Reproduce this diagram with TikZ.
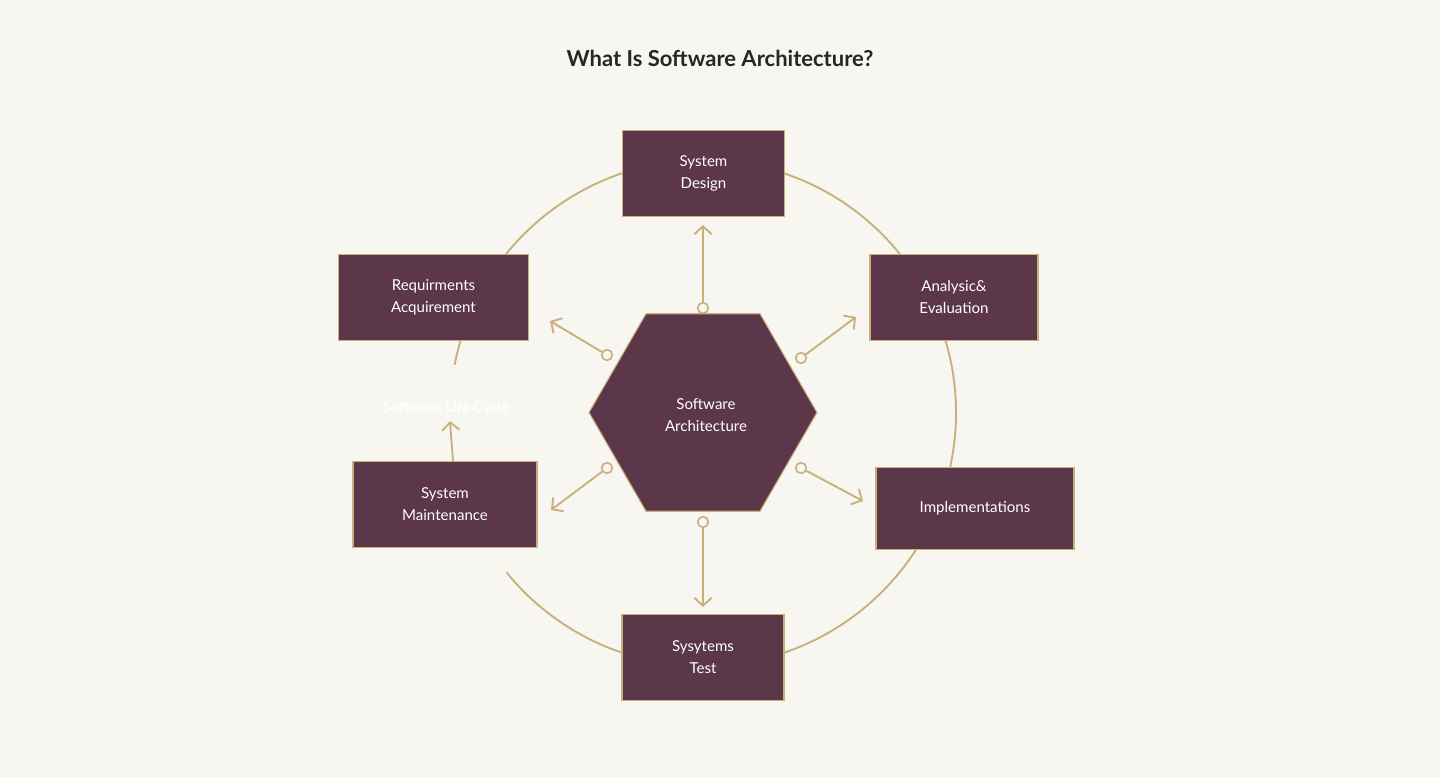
\documentclass[tikz,border=0pt]{standalone}
\usepackage{fontspec}
\setmainfont{Lato}
\usetikzlibrary{arrows.meta,shapes.geometric}
\definecolor{bg}{HTML}{F8F6F1}
\definecolor{plum}{HTML}{5C3649}
\definecolor{tan}{HTML}{C8B07A}
\begin{document}
\begin{tikzpicture}[x=0.75pt,y=-0.75pt,
  box/.style={draw=tan,line width=0.8pt,fill=plum,text=white,font=\fontsize{11.3}{16.5}\selectfont,align=center,inner sep=0pt},
  dot/.style={circle,draw=tan,line width=1.2pt,fill=bg,minimum size=8pt,inner sep=0pt},
  arr/.style={draw=tan,line width=1.4pt,-{Straight Barb[length=6pt,width=13pt]}},
  ring/.style={draw=tan,line width=1.4pt}]
\fill[bg] (0,0) rectangle (1440,777);
\useasboundingbox (0,0) rectangle (1440,777);
\node[font=\bfseries\fontsize{16.5}{20}\selectfont,text=black!85] (title) at (720,58) {What Is Software Architecture?};
% ring
\draw[ring] (703,413) ++(191:253) arc[start angle=191,end angle=501,radius=253];
% boxes
\node[box,minimum width=122pt,minimum height=65pt] (sd) at (703.5,173.5) {System\\ Design};
\node[box,minimum width=142pt,minimum height=65pt] (ra) at (433.5,297.5) {Requirments\\ Acquirement};
\node[box,minimum width=126pt,minimum height=65pt] (ae) at (954,297.5) {Analysic\&\\ Evaluation};
\node[box,minimum width=138pt,minimum height=65pt] (sm) at (445,504.5) {System\\ Maintenance};
\node[box,minimum width=148.5pt,minimum height=62pt] (im) at (975,508.5) {Implementations};
\node[box,minimum width=121.5pt,minimum height=65pt] (st) at (703,657.5) {Sysytems\\ Test};
\node[draw=tan,line width=0.8pt,fill=plum,regular polygon,regular polygon sides=6,minimum size=171pt,inner sep=0pt] (hex) at (703,412.5) {};
\node[text=white,font=\fontsize{11.3}{16.5}\selectfont,align=center] (hl) at (706,415) {Software\\ Architecture};
% life cycle label
\node[text=white,font=\bfseries\fontsize{11}{13}\selectfont] (slc) at (446,408) {Software Life Cycle};
\coordinate (slca) at (450,421);
\draw[arr] (453,461) -- (slca);
% arrows from hexagon
\coordinate (e1) at (703,225); \coordinate (e2) at (703,607);
\coordinate (e3) at (550,321); \coordinate (e4) at (856,317);
\coordinate (e5) at (551,510); \coordinate (e6) at (863,501);
\node[dot] (d1) at (703,308) {};
\node[dot] (d2) at (703,522) {};
\node[dot] (d3) at (607,355) {};
\node[dot] (d4) at (801,358) {};
\node[dot] (d5) at (607,468) {};
\node[dot] (d6) at (801,468) {};
\foreach \i in {1,...,6} \draw[arr] (d\i) -- (e\i);
\end{tikzpicture}
\end{document}
